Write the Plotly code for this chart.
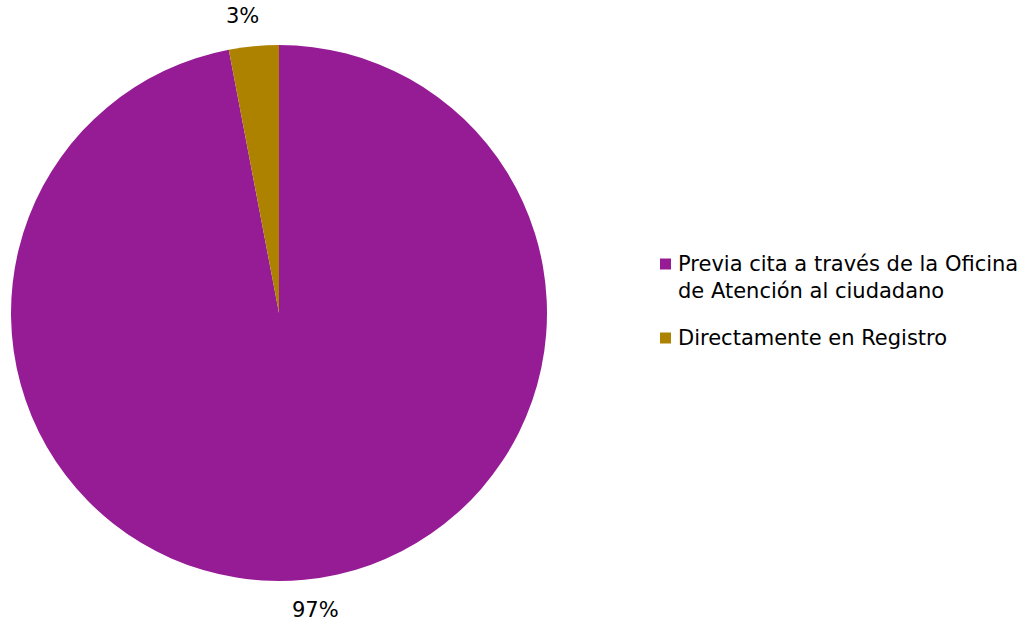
import math
import plotly.graph_objects as go

# Share of appointments by access channel
labels = ["Previa cita a través de la Oficina<br>de Atención al ciudadano", "Directamente en Registro"]
values = [97, 3]
colors = ["#961C96", "#AD8200"]

W, H = 1032, 626
FONT = "Tahoma, 'DejaVu Sans', sans-serif"
FSIZE = 21

# Pie placement in pixels (centre and radius)
CX, CY, R = 279, 313, 268
LABEL_R = R + 30
LABEL_SIDE_SHIFT = 8


def px_x(x):
    return x / W


def px_y(y):
    return 1 - y / H


fig = go.Figure(
    go.Pie(
        labels=labels,
        values=values,
        sort=False,
        direction="clockwise",
        rotation=0,
        marker=dict(colors=colors, line=dict(width=0)),
        textinfo="none",
        domain=dict(x=[px_x(CX - R), px_x(CX + R)], y=[px_y(CY + R), px_y(CY - R)]),
        hoverinfo="label+percent",
        showlegend=False,
    )
)

# Percentage labels just outside each slice, at the slice's mid-angle
total = sum(values)
start = 0.0
for v in values:
    frac = v / total
    mid = (start + frac / 2) * 2 * math.pi  # clockwise from 12 o'clock
    start += frac
    s = math.sin(mid)
    lx = CX + LABEL_R * s + math.copysign(LABEL_SIDE_SHIFT, s)
    ly = CY - LABEL_R * math.cos(mid)
    fig.add_annotation(
        x=px_x(lx), y=px_y(ly), xref="paper", yref="paper",
        text=f"{round(frac * 100)}%", showarrow=False,
        xanchor="center", yanchor="middle",
        font=dict(family=FONT, size=FSIZE, color="#000000"),
    )

# Legend: coloured square plus label per category
LEG_SQ_X = 660
LEG_SQ = 11
LEG_TEXT_X = 676
LINE_PITCH = 27
ITEM_GAP = 20
y_cursor = 264  # centre of the first text line
for lab, col in zip(labels, colors):
    n_lines = lab.count("<br>") + 1
    fig.add_shape(
        type="rect", xref="paper", yref="paper",
        x0=px_x(LEG_SQ_X), x1=px_x(LEG_SQ_X + LEG_SQ),
        y0=px_y(y_cursor - LEG_SQ / 2), y1=px_y(y_cursor + LEG_SQ / 2),
        fillcolor=col, line=dict(width=0),
    )
    block_mid = y_cursor + (n_lines - 1) * LINE_PITCH / 2
    fig.add_annotation(
        x=px_x(LEG_TEXT_X), y=px_y(block_mid), xref="paper", yref="paper",
        text=lab, showarrow=False, xanchor="left", yanchor="middle", align="left",
        font=dict(family=FONT, size=FSIZE, color="#000000"),
    )
    y_cursor += (n_lines - 1) * LINE_PITCH + LINE_PITCH + ITEM_GAP

fig.update_layout(
    width=W,
    height=H,
    margin=dict(l=0, r=0, t=0, b=0),
    paper_bgcolor="white",
    plot_bgcolor="white",
    font=dict(family=FONT, size=FSIZE, color="#000000"),
    showlegend=False,
)

fig.write_html("out.html")
